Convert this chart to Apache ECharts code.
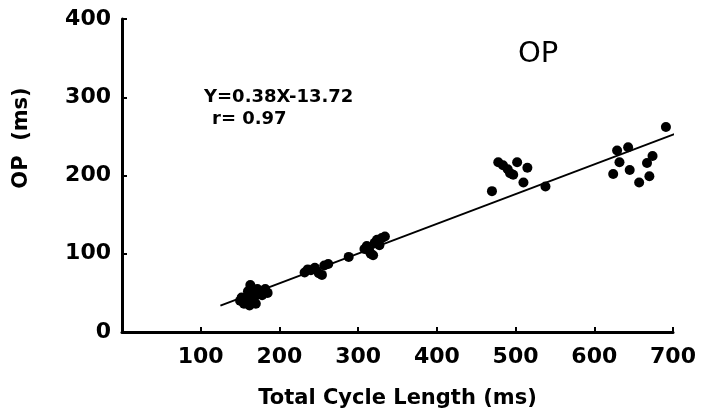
<!DOCTYPE html>
<html>
<head>
<meta charset="utf-8">
<script src="https://cdn.jsdelivr.net/npm/echarts@6/dist/echarts.min.js"></script>
<style>
  html, body { margin: 0; padding: 0; background: #fff; }
  #chart { width: 705px; height: 416px; }
</style>
</head>
<body>
<div id="chart"></div>
<script>
// Total cycle length (ms) vs OP interval (ms)
var cycleLength = [
  150, 152, 155, 156, 158, 160, 162, 163, 165, 166, 168, 170, 172, 175, 178, 182, 185, 160,
  232, 236, 240, 245, 250, 254, 257, 262,
  288,
  308, 311, 314, 316, 319, 321, 324, 327, 330, 334,
  470, 478, 484, 490, 493, 497, 502, 510, 515, 538,
  624, 629, 632, 643, 645, 657, 667, 674, 670, 691
];
var opValues = [
  40, 44, 36, 42, 38, 46, 34, 60, 40, 50, 44, 36, 55, 52, 47, 55, 50, 52,
  76, 80, 79, 82, 75, 73, 85, 87,
  96,
  106, 110, 104, 100, 98, 114, 118, 111, 120, 122,
  180, 217, 213, 208, 203, 201, 217, 191, 210, 186,
  202, 232, 217, 236, 207, 191, 216, 225, 199, 262
];

// Regression fit Y = 0.38X - 13.72, r = 0.97
var slope = 0.38;
var intercept = -13.72;
var fitRangeX = [125, 702];

var xTicks = [0, 100, 200, 300, 400, 500, 600, 700];
var yTicks = [0, 100, 200, 300, 400];

var points = cycleLength.map(function (x, i) { return [x, opValues[i]]; });
var fitLine = fitRangeX.map(function (x) { return [x, slope * x + intercept]; });

var font = 'DejaVu Sans';
var chart = echarts.init(document.getElementById('chart'));
chart.setOption({
  backgroundColor: '#ffffff',
  animation: false,
  grid: { left: 122, right: 32, top: 19, bottom: 84 },
  xAxis: {
    type: 'value',
    min: xTicks[0],
    max: xTicks[xTicks.length - 1],
    interval: 100,
    name: 'Total Cycle Length (ms)',
    nameLocation: 'middle',
    nameGap: 56,
    nameTextStyle: { fontFamily: font, fontWeight: 'bold', fontSize: 21, color: '#000' },
    axisLine: { lineStyle: { color: '#000', width: 3 } },
    axisTick: { inside: true, length: 5, lineStyle: { color: '#000', width: 2 } },
    axisLabel: {
      showMinLabel: false,
      margin: 14,
      fontFamily: font, fontWeight: 'bold', fontSize: 22, color: '#000'
    },
    splitLine: { show: false }
  },
  yAxis: {
    type: 'value',
    min: yTicks[0],
    max: yTicks[yTicks.length - 1],
    interval: 100,
    axisLine: { lineStyle: { color: '#000', width: 3 } },
    axisTick: { inside: true, length: 5, lineStyle: { color: '#000', width: 2 } },
    axisLabel: {
      margin: 11,
      fontFamily: font, fontWeight: 'bold', fontSize: 22, color: '#000'
    },
    splitLine: { show: false }
  },
  graphic: [
    {
      type: 'text', x: 22, y: 138, rotation: Math.PI / 2,
      style: {
        text: 'OP  (ms)', fontFamily: font, fontWeight: 'bold', fontSize: 21,
        fill: '#000', textAlign: 'center', textVerticalAlign: 'middle'
      }
    },
    {
      type: 'text', left: 518, top: 40,
      style: { text: 'OP', fontFamily: font, fontSize: 29, fill: '#000' }
    },
    {
      type: 'text', left: 204, top: 88,
      style: { text: 'Y=0.38X-13.72', fontFamily: font, fontWeight: 'bold', fontSize: 18, fill: '#000' }
    },
    {
      type: 'text', left: 212, top: 110,
      style: { text: 'r= 0.97', fontFamily: font, fontWeight: 'bold', fontSize: 18, fill: '#000' }
    }
  ],
  series: [
    {
      type: 'line',
      data: fitLine,
      symbol: 'none',
      lineStyle: { color: '#000', width: 2 },
      z: 2
    },
    {
      type: 'scatter',
      data: points,
      symbol: 'circle',
      symbolSize: 10,
      itemStyle: { color: '#000', opacity: 1 },
      z: 3
    }
  ]
});
</script>
</body>
</html>
